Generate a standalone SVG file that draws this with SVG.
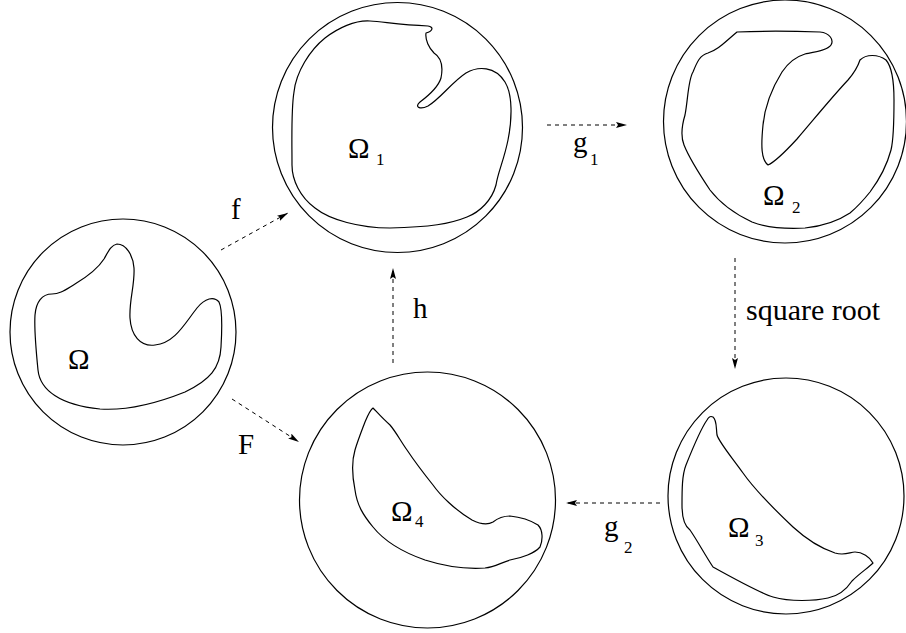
<svg xmlns="http://www.w3.org/2000/svg" width="906" height="633" viewBox="0 0 906 633">
<style>
.outer{fill:none;stroke:#000;stroke-width:1.2}
.blob{fill:none;stroke:#000;stroke-width:1.2;stroke-linejoin:round}
.conn{fill:none;stroke:#000;stroke-width:1;stroke-dasharray:4 4}
.lbl{font-family:"Liberation Serif","Times New Roman",serif;font-size:29px;fill:#000}
.sub{font-family:"Liberation Serif","Times New Roman",serif;font-size:17px;fill:#000}
</style>
<defs>
<marker id="ah" markerUnits="userSpaceOnUse" markerWidth="12" markerHeight="8" refX="11" refY="3" orient="auto">
<path d="M0,0 L11,3 L0,6 L2,3 z" fill="#000"/>
</marker>
</defs>
<rect width="906" height="633" fill="#fff"/>

<g id="node-omega">
<circle class="outer" cx="123" cy="332" r="113"/>
<path class="blob" d="M117,244 C111,245 108,252 104,259 C97,270 85,278 75,284 C65,290 60,294 52,294 C42,294 36,302 35,315 C34,330 36,350 38,370 C40,390 60,405 100,409 C130,411 160,402 185,392 C210,380 220,368 221,347 C222,330 223,310 219,302 C214,296 205,298 197,308 C185,323 175,343 155,345 C140,347 131,335 130,318 C129,300 135,285 134,268 C133,255 126,244 117,244 Z"/>
<text class="lbl" x="68" y="369">Ω</text>
</g>

<g id="node-omega1">
<circle class="outer" cx="397.5" cy="127.5" r="125"/>
<path class="blob" d="M370,21 C385,22 400,25 428,26 C434,27 433,31 426,33 C425,40 429,48 434,53 C442,58 443,68 441,78 C438,88 428,96 420,102 C414,107 420,110 428,106 C440,99 452,82 466,73 C478,66 495,66 505,82 C513,95 512,120 508,140 C504,160 498,172 496,185 C492,200 480,212 467,217 C450,224 430,227 390,228 C360,228 330,220 315,208 C300,197 292,180 292,165 C292,140 291,110 294,92 C296,72 310,50 325,38 C338,28 355,20 370,21 Z"/>
<text class="lbl" x="348" y="158">Ω</text><text class="sub" x="376" y="165">1</text>
</g>

<g id="node-omega2">
<circle class="outer" cx="785" cy="121.5" r="121.5"/>
<path class="blob" d="M737,32 C760,31 790,31 820,32 C830,33 834,40 831,45 C828,50 815,52 805,54 C795,57 788,63 782,72 C772,88 765,105 763,125 C761,145 761,160 768,165 C775,162 785,152 797,139 C815,118 832,97 848,80 C855,72 858,66 860,60 C866,54 878,54 886,60 C893,68 894,85 894,100 C894,120 894,138 891,150 C887,165 879,180 870,192 C862,202 856,208 850,213 C838,221 825,226 805,228 C785,229 765,227 752,222 C735,214 720,203 710,190 C700,175 690,160 684,145 C680,135 682,125 685,115 C688,100 688,80 693,72 C697,62 700,55 708,53 C718,50 725,42 737,32 Z"/>
<text class="lbl" x="763" y="205">Ω</text><text class="sub" x="792" y="213">2</text>
</g>

<g id="node-omega3">
<circle class="outer" cx="786" cy="496" r="118"/>
<path class="blob" d="M713,417 C717,420 716,428 717,435 C719,442 730,455 743,473 C755,490 775,510 793,527 C805,538 820,548 835,553 C845,556 850,552 855,552 C862,552 870,557 873,563 C868,568 860,573 852,581 C846,590 838,596 828,598 C815,601 790,602 773,597 C760,593 740,582 713,567 C705,555 697,540 690,530 C683,525 682,515 682,505 C682,490 682,475 686,465 C692,450 700,430 707,420 C709,416 711,416 713,417 Z"/>
<text class="lbl" x="728" y="537">Ω</text><text class="sub" x="755" y="546">3</text>
</g>

<g id="node-omega4">
<circle class="outer" cx="427.5" cy="500" r="128"/>
<path class="blob" d="M373,408 C376,411 382,418 390,425 C396,432 400,440 407,450 C415,462 425,475 433,485 C440,495 455,510 472,520 C480,524 488,525 493,522 C498,518 503,516 510,516 C520,517 530,520 538,525 C543,530 543,540 540,547 C535,553 522,558 510,560 C500,563 495,567 485,568 C470,569 450,568 425,560 C405,553 385,542 373,527 C363,515 357,505 355,490 C352,475 352,460 355,450 C358,440 362,430 365,422 C368,415 370,410 373,408 Z"/>
<text class="lbl" x="391" y="521">Ω</text><text class="sub" x="415" y="527">4</text>
</g>

<g id="connectors">
<path class="conn" d="M221,250 L288,213" marker-end="url(#ah)"/>
<path class="conn" d="M547,125 L627,125" marker-end="url(#ah)"/>
<path class="conn" d="M735,258 L735,369" marker-end="url(#ah)"/>
<path class="conn" d="M393,363 L393,268" marker-end="url(#ah)"/>
<path class="conn" d="M232,399 L299,442" marker-end="url(#ah)"/>
<path class="conn" d="M660,503 L566,503" marker-end="url(#ah)"/>
</g>

<g id="labels">
<text class="lbl" x="231" y="219">f</text>
<text class="lbl" x="573" y="152">g</text><text class="sub" x="590" y="165">1</text>
<text class="lbl" x="746" y="320" style="font-size:30px">square root</text>
<text class="lbl" x="413" y="318">h</text>
<text class="lbl" x="238" y="454">F</text>
<text class="lbl" x="604" y="536">g</text><text class="sub" x="624" y="553">2</text>
</g>
</svg>
